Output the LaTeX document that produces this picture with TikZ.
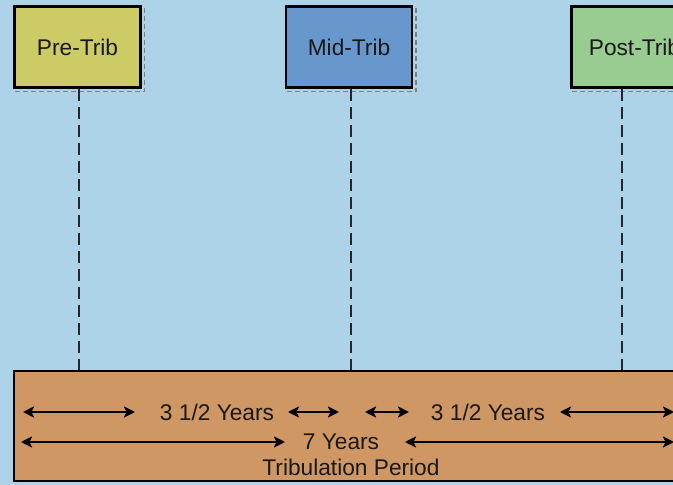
\documentclass[tikz,border=0pt]{standalone}
\usepackage{fontspec}
\setmainfont{Liberation Sans}
\usepackage{tikz}
\usetikzlibrary{arrows.meta}
\usetikzlibrary{positioning}
\definecolor{sky}{RGB}{172,211,231}
\definecolor{preyel}{RGB}{205,203,102}
\definecolor{midblu}{RGB}{103,151,204}
\definecolor{postgrn}{RGB}{153,204,145}
\definecolor{tan}{RGB}{206,151,99}
\definecolor{txt}{RGB}{25,25,25}
\tikzset{
  trib/.style={
    rectangle,
    draw=black, line width=2.8pt,
    fill=#1,
    minimum width=126pt,
    minimum height=81pt,
    inner sep=0pt,
    text=txt,
    font=\fontsize{22.7}{27}\selectfont,
  },
  band/.style={
    rectangle,
    draw=black, line width=1.6pt,
    fill=tan,
    minimum width=686pt,
    minimum height=110pt,
  },
  lbl/.style={inner sep=0pt, text=txt, font=\fontsize{22.7}{27}\selectfont},
  dline/.style={line width=1.3pt, draw=black!85, dash pattern=on 12pt off 6pt},
  shade/.style={line width=1.2pt, draw=gray, dash pattern=on 5pt off 3pt},
  span/.style={{Stealth[length=11pt,width=11pt,inset=2.5pt]}-{Stealth[length=11pt,width=11pt,inset=2.5pt]}, line width=2.4pt},
}

\begin{document}
\begin{tikzpicture}[x=1pt,y=1pt]
  \clip (0,0) rectangle (673,485);
  \fill[sky] (0,0) rectangle (673,485);

  \node[trib=preyel] (pre) at (77.5,438) {Pre-Trib};
  \node[trib=midblu] (mid) at (349,438) {Mid-Trib};
  \node[trib=postgrn] (post) at (634.5,438) {Post-Trib};
  \foreach \v in {pre,mid,post}
    \draw[shade] ([shift={(2,-2.5)}]\v.south west) -- ([shift={(2.5,-2.5)}]\v.south east)
      -- ([shift={(2.5,-2)}]\v.north east);

  \node[band] (trib) at (357,59) {};

  % drops to the period
  \draw[dline] ([xshift=1.5pt]pre.south) -- ([xshift=1.5pt]pre.south |- trib.north);
  \draw[dline] ([xshift=2pt]mid.south) -- ([xshift=2pt]mid.south |- trib.north);
  \draw[dline] ([xshift=-12.5pt]post.south) -- ([xshift=-12.5pt]post.south |- trib.north);

  % half periods
  \node[lbl] (half1) at (217,73) {3 1/2 Years};
  \node[lbl] (half2) at (488,73) {3 1/2 Years};
  \coordinate (h1a) at (23,73);
  \coordinate (h1b) at (135,73);
  \coordinate (h1c) at (288,73);
  \coordinate (h1d) at (339,73);
  \coordinate (h2a) at (365,73);
  \coordinate (h2b) at (409,73);
  \coordinate (h2c) at (560,73);
  \coordinate (h2d) at (674,73);
  \draw[span] (h1a) -- (h1b);
  \draw[span] (h1c) -- (h1d);
  \draw[span] (h2a) -- (h2b);
  \draw[span] (h2c) -- (h2d);

  % whole period
  \node[lbl] (seven) at (341,43) {7 Years};
  \coordinate (s1) at (21,43);
  \coordinate (s2) at (285,43);
  \coordinate (s3) at (405,43);
  \coordinate (s4) at (674,43);
  \draw[span] (s1) -- (s2);
  \draw[span] (s3) -- (s4);
  \node[lbl, below=8.5pt of seven, xshift=10pt] (period) {Tribulation Period};
\end{tikzpicture}
\end{document}
